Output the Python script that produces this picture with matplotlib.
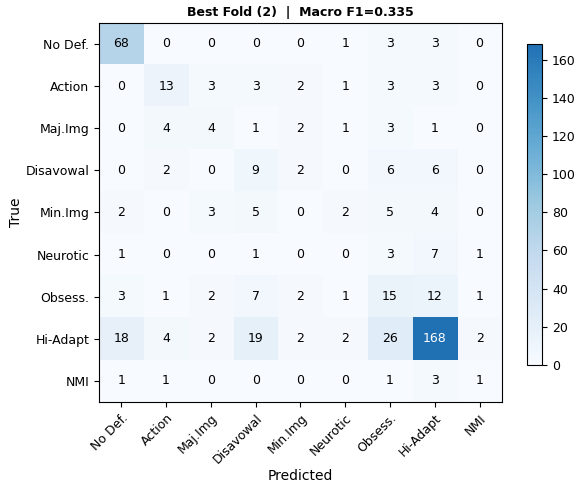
import numpy as np
import matplotlib
matplotlib.use('Agg')
import matplotlib.pyplot as plt
from matplotlib.colors import LinearSegmentedColormap

labels = ['No Def.', 'Action', 'Maj.Img', 'Disavowal', 'Min.Img',
          'Neurotic', 'Obsess.', 'Hi-Adapt', 'NMI']

cm = np.array([
    [68, 0, 0, 0, 0, 1, 3, 3, 0],
    [0, 13, 3, 3, 2, 1, 3, 3, 0],
    [0, 4, 4, 1, 2, 1, 3, 1, 0],
    [0, 2, 0, 9, 2, 0, 6, 6, 0],
    [2, 0, 3, 5, 0, 2, 5, 4, 0],
    [1, 0, 0, 1, 0, 0, 3, 7, 1],
    [3, 1, 2, 7, 2, 1, 15, 12, 1],
    [18, 4, 2, 19, 2, 2, 26, 168, 2],
    [1, 1, 0, 0, 0, 0, 1, 3, 1],
])

# Blues, cut off before the darkest navy
blues = plt.cm.Blues
cmap = LinearSegmentedColormap.from_list('blues_cut', blues(np.linspace(0.0, 0.75, 256)))

fig = plt.figure(figsize=(5.75, 4.86), dpi=100)
ax = fig.add_axes([0.172, 0.173, 0.701, 0.780])
cax = fig.add_axes([0.917, 0.249, 0.026, 0.660])

im = ax.imshow(cm, cmap=cmap, vmin=0, vmax=cm.max(), aspect='auto')
cb = fig.colorbar(im, cax=cax)
cb.ax.tick_params(labelsize=9)
cb.set_ticks(range(0, 161, 20))

thresh = cm.max() / 2
for i in range(cm.shape[0]):
    for j in range(cm.shape[1]):
        ax.text(j, i, str(cm[i, j]), ha='center', va='center', fontsize=9,
                color='white' if cm[i, j] > thresh else 'black')

ax.set_xticks(range(len(labels)))
ax.set_yticks(range(len(labels)))
ax.set_xticklabels(labels, rotation=45, ha='right', rotation_mode='anchor', fontsize=9)
ax.set_yticklabels(labels, fontsize=9)
ax.set_xlabel('Predicted', fontsize=10, labelpad=2)
ax.set_ylabel('True', fontsize=10, labelpad=2)
ax.set_title('Best Fold (2)  |  Macro F1=0.335', fontsize=9, fontweight='bold', pad=5)

plt.savefig('out.png', dpi=100)
plt.close()
